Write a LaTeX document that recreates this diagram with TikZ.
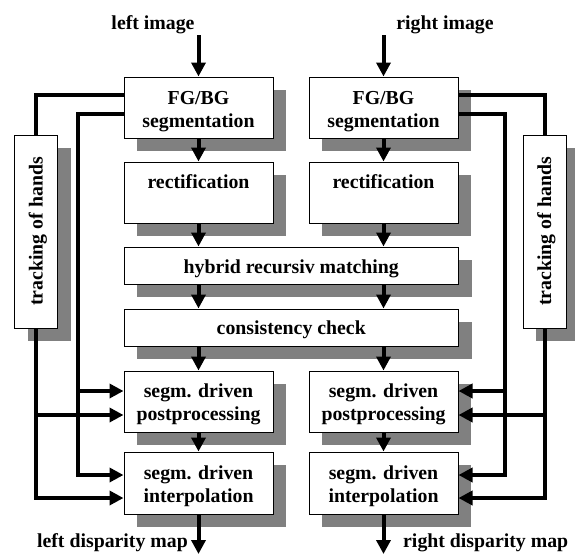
\documentclass[tikz,border=0pt]{standalone}
\usepackage{fontspec}
\setmainfont{Liberation Serif}
\usetikzlibrary{arrows.meta,shadows,calc}
\definecolor{shadowgray}{RGB}{128,128,128}
\begin{document}
\begin{tikzpicture}[x=1pt,y=-1pt,
  box/.style={draw=black, line width=1pt, fill=white, inner sep=0pt,
    drop shadow={shadow xshift=13pt, shadow yshift=-13pt, fill=shadowgray, opacity=1}},
  colbox/.style={box, minimum width=149pt, minimum height=61pt},
  widebox/.style={box, minimum width=334.5pt, minimum height=37pt},
  trbox/.style={box, minimum width=43pt, minimum height=193pt},
  lbl/.style={font=\fontsize{19.8}{23}\selectfont\bfseries, align=center, inner sep=0pt},
  conn/.style={line width=4pt, line join=miter},
  arr/.style={conn, -{Triangle[length=14pt,width=14pt]}}]
\useasboundingbox (0,0) rectangle (575,554);

% boxes
\node[colbox] (fgL) at (198.5,107.5) {};
\node[colbox] (fgR) at (383.5,107.5) {};
\node[colbox] (reL) at (198.5,192.5) {};
\node[colbox] (reR) at (383.5,192.5) {};
\node[widebox] (hy) at (291.25,265.5) {};
\node[widebox] (co) at (291.25,327.5) {};
\node[colbox] (poL) at (198.5,401.5) {};
\node[colbox] (poR) at (383.5,401.5) {};
\node[colbox, minimum height=62pt] (inL) at (198.5,483) {};
\node[colbox, minimum height=62pt] (inR) at (383.5,483) {};
\node[trbox] (trL) at (36,231.5) {};
\node[trbox] (trR) at (544.5,231.5) {};

% texts (base = baseline of the last line)
\node[lbl, anchor=base] (fgLt) at (198.5,127) {FG/BG\\segmentation};
\node[lbl, anchor=base] (fgRt) at (383.5,127) {FG/BG\\segmentation};
\node[lbl, anchor=base] (reLt) at (198.5,188) {rectification};
\node[lbl, anchor=base] (reRt) at (383.5,188) {rectification};
\node[lbl, anchor=base] (hyt) at (291.25,273) {hybrid recursiv matching};
\node[lbl, anchor=base] (cot) at (291.25,334) {consistency check};
\node[lbl, anchor=base] (poLt) at (198.5,420) {segm. driven\\postprocessing};
\node[lbl, anchor=base] (poRt) at (383.5,420) {segm. driven\\postprocessing};
\node[lbl, anchor=base] (inLt) at (198.5,502) {segm. driven\\interpolation};
\node[lbl, anchor=base] (inRt) at (383.5,502) {segm. driven\\interpolation};
\node[lbl, rotate=90, anchor=base] (trLt) at (42.5,231.5) {tracking of hands};
\node[lbl, rotate=90, anchor=base] (trRt) at (551,231.5) {tracking of hands};
\node[lbl, anchor=base] (liT) at (153,29) {left image};
\node[lbl, anchor=base] (riT) at (445,29) {right image};
\node[lbl, anchor=base east] (ldm) at (188,547) {left disparity map};
\node[lbl, anchor=base west] (rdm) at (403,547) {right disparity map};

% free ends
\coordinate (srcL) at (198.5,35);
\coordinate (srcR) at (383.5,35);
\coordinate (outL) at (198.5,554);
\coordinate (outR) at (383.5,554);

% main flow
\draw[arr] (srcL) -- (fgL.north);
\draw[arr] (srcR) -- (fgR.north);
\draw[arr] (fgL.south) -- (reL.north);
\draw[arr] (fgR.south) -- (reR.north);
\draw[arr] (reL.south) -- (reL.south |- hy.north);
\draw[arr] (reR.south) -- (reR.south |- hy.north);
\draw[arr] (hy.south -| reL.south) -- (reL.south |- co.north);
\draw[arr] (hy.south -| reR.south) -- (reR.south |- co.north);
\draw[arr] (co.south -| poL.north) -- (poL.north);
\draw[arr] (co.south -| poR.north) -- (poR.north);
\draw[arr] (poL.south) -- (inL.north);
\draw[arr] (poR.south) -- (inR.north);
\draw[arr] (inL.south) -- (outL);
\draw[arr] (inR.south) -- (outR);

% left side connectors
\coordinate (aL) at ($(fgL.west)+(0,-12.5)$);
\coordinate (bL) at ($(fgL.west)+(0,6.5)$);
\coordinate (pL1) at ($(poL.west)+(0,-10.5)$);
\coordinate (pL2) at ($(poL.west)+(0,13.5)$);
\coordinate (iL1) at ($(inL.west)+(0,-8)$);
\coordinate (iL2) at ($(inL.west)+(0,15)$);
\draw[conn] (trL.north) |- (aL);
\draw[arr] (bL) -- ++(-46,0) |- (iL1);
\draw[arr] ($(pL1)+(-46,0)$) -- (pL1);
\draw[arr] (trL.south) |- (iL2);
\draw[arr] (trL.south |- pL2) -- (pL2);

% right side connectors
\coordinate (aR) at ($(fgR.east)+(0,-12.5)$);
\coordinate (bR) at ($(fgR.east)+(0,6.5)$);
\coordinate (pR1) at ($(poR.east)+(0,-10.5)$);
\coordinate (pR2) at ($(poR.east)+(0,13.5)$);
\coordinate (iR1) at ($(inR.east)+(0,-8)$);
\coordinate (iR2) at ($(inR.east)+(0,15)$);
\draw[conn] (trR.north) |- (aR);
\draw[arr] (bR) -- ++(46.5,0) |- (iR1);
\draw[arr] ($(pR1)+(46.5,0)$) -- (pR1);
\draw[arr] (trR.south) |- (iR2);
\draw[arr] (trR.south |- pR2) -- (pR2);
\end{tikzpicture}
\end{document}
